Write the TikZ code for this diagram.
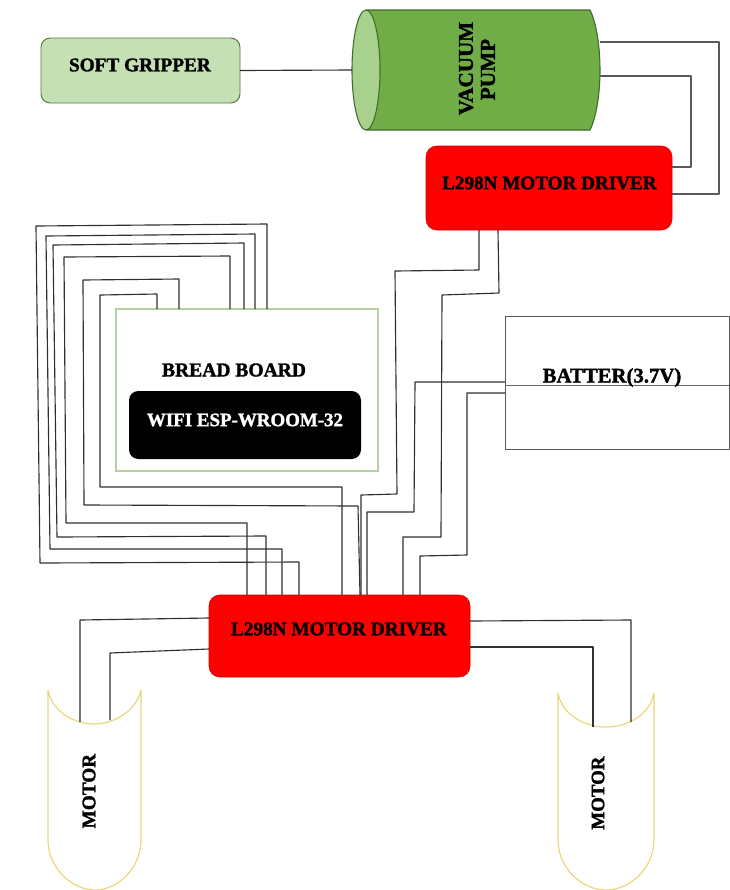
\documentclass[tikz,border=0pt]{standalone}
\usepackage{fontspec}
\setmainfont[BoldFeatures={FakeBold=1.6}]{Liberation Serif}
\usepackage{graphicx}
\definecolor{wirec}{HTML}{303030}
\definecolor{pumpg}{HTML}{70AD47}
\definecolor{pumpl}{HTML}{A9D18E}
\definecolor{pumpd}{HTML}{3F6B2A}
\definecolor{gripf}{HTML}{C5E0B4}
\definecolor{gripd}{HTML}{4F7A3A}
\definecolor{bbd}{HTML}{B5CFA5}
\definecolor{motc}{HTML}{EAD77E}
\newcommand{\labw}[2]{\resizebox{#1pt}{!}{\textbf{#2}}}
\begin{document}
\begin{tikzpicture}[x=0.75pt,y=-0.75pt,
  wire/.style={draw=wirec,line width=0.85pt,line join=round},
  wiregrey/.style={draw=wirec!80,line width=0.85pt,line join=round},
  bx/.style 2 args={inner sep=0pt,outer sep=0pt,minimum width=#1*0.75pt,minimum height=#2*0.75pt},
  redbox/.style={rectangle,rounded corners=8pt,fill=red,draw=red!85!black,line width=0.4pt},
  txt/.style={inner sep=0pt,outer sep=0pt},
  motor/.style={draw=motc,line width=0.9pt,fill=white,line join=bevel}]
\useasboundingbox (0,0) rectangle (730,890);
\fill[white] (0,0) rectangle (730,890);

% gripper
\node[bx={199}{65},rectangle,rounded corners=7pt,fill=gripf,draw=gripd,line width=0.7pt] (grip) at (140.5,70.5) {};
\node[txt] (gript) at (140,65) {\labw{106.5}{SOFT GRIPPER}};

% pump
\path[fill=pumpg,draw=pumpd,line width=0.8pt]
  (367,10) -- (590,10) .. controls (596,22) and (600,45) .. (600,70)
  .. controls (600,95) and (596,118) .. (590,130) -- (367,130) -- cycle;
\draw[fill=pumpl,draw=pumpd,line width=0.8pt] (366,70) ellipse [x radius=14,y radius=60];
\node[txt,rotate=90] (pumpt1) at (466,68.5) {\labw{70}{VACUUM}};
\node[txt,rotate=90] (pumpt2) at (488,69.5) {\labw{46}{PUMP}};
\coordinate (pumpA) at (600,42);
\coordinate (pumpB) at (600,76);
\coordinate (pumpL) at (352,70);

% upper driver
\node[bx={246}{84},redbox] (drvU) at (549,188) {};
\node[txt] (drvUt) at (549.5,183) {\labw{161}{L298N MOTOR DRIVER}};

% battery
\node[bx={224}{133},rectangle,draw=wirec!80,line width=0.7pt] (bat) at (617,382.5) {};
\draw[draw=wirec!75,line width=0.5pt] (bat.west |- 0,385.5) -- (bat.east |- 0,385.5);
\node[txt] (batt) at (612,377.5) {\labw{104}{BATTER(3.7V)}};

% breadboard
\node[bx={262}{162},rectangle,draw=bbd,line width=0.8pt] (bb) at (247,390) {};
\node[txt] (bbt) at (234,370) {\labw{108}{BREAD BOARD}};
\node[bx={232}{68},rectangle,rounded corners=7pt,fill=black] (esp) at (245,425) {};
\node[txt,text=white] (espt) at (245,420) {\labw{147}{WIFI ESP-WROOM-32}};

% lower driver
\node[bx={261}{82},redbox] (drvL) at (339.5,636) {};
\node[txt] (drvLt) at (339,629) {\labw{162}{L298N MOTOR DRIVER}};

% motors
\path[motor] (48,690) .. controls (52,712) and (75,724) .. (94,724)
  .. controls (113,724) and (136,712) .. (141,690) -- (141,840)
  .. controls (141,868) and (118,890) .. (95,890)
  .. controls (72,890) and (48,868) .. (48,840) -- cycle;
\path[motor] (558,693) .. controls (562,715) and (585,727) .. (606,727)
  .. controls (627,727) and (650,715) .. (654,693) -- (654,840)
  .. controls (654,868) and (630,890) .. (606,890)
  .. controls (582,890) and (558,868) .. (558,840) -- cycle;
\node[txt,rotate=90] (motLt) at (89,791) {\labw{56}{MOTOR}};
\node[txt,rotate=90] (motRt) at (598,793) {\labw{55}{MOTOR}};

% ports
\coordinate (bb1) at (267,309); \coordinate (dl1) at (299,595);
\coordinate (bb2) at (255,309); \coordinate (dl2) at (282,595);
\coordinate (bb3) at (244,309); \coordinate (dl3) at (266,595);
\coordinate (bb4) at (230,309); \coordinate (dl4) at (247,595);
\coordinate (bb5) at (179,309); \coordinate (dl5) at (360,595);
\coordinate (bb6) at (157,309); \coordinate (dl6) at (342,595);
\coordinate (du1) at (479,230); \coordinate (dl7) at (361,595);
\coordinate (du2) at (498,230); \coordinate (dl8) at (403,595);
\coordinate (ba1) at (505,382); \coordinate (dl9) at (367,595);
\coordinate (ba2) at (505,393); \coordinate (dl10) at (420,595);
\coordinate (duR1) at (672,194); \coordinate (duR2) at (672,167);
\coordinate (dlL1) at (209,618); \coordinate (dlL2) at (209,649);
\coordinate (dlR1) at (470,621); \coordinate (dlR2) at (470,647);
\coordinate (mL1) at (80,722); \coordinate (mL2) at (110,720);
\coordinate (mR1) at (631,722); \coordinate (mR2) at (593,727);

% breadboard to lower driver
\draw[wire] (bb1) -- (267,224) -- (36,226) -- (40,563) -- (299,562) -- (dl1);
\draw[wire] (bb2) -- (255,234) -- (46,236) -- (50,549) -- (282,549) -- (dl2);
\draw[wire] (bb3) -- (244,243) -- (53,245) -- (57,537) -- (266,536) -- (dl3);
\draw[wire] (bb4) -- (230,256) -- (64,257) -- (66,523) -- (247,523) -- (dl4);
\draw[wire] (bb5) -- (179,279) -- (83,280) -- (84,505) -- (358,506) -- (dl5);
\draw[wire] (bb6) -- (157,294) -- (100,295) -- (100,487) -- (342,487) -- (dl6);

% upper driver to lower driver
\draw[wire] (du1) -- (479,270) -- (395,271) -- (397,494) -- (361,495) -- (dl7);
\draw[wire] (du2) -- (499,293) -- (442,295) -- (441,537) -- (403,537) -- (dl8);

% battery to lower driver
\draw[wire] (ba1) -- (415,382) -- (414,512) -- (367,512) -- (dl9);
\draw[wire] (ba2) -- (467,393) -- (467,555) -- (420,556) -- (dl10);

% pump to upper driver
\draw[wiregrey] (pumpA) -- (719,42) -- (719,194) -- (duR1);
\draw[wiregrey] (pumpB) -- (691,76) -- (691,167) -- (duR2);

% gripper to pump
\draw[wire] (grip.east) -- (pumpL);

% lower driver to motors
\draw[wire] (dlL1) -- (80,620) -- (mL1);
\draw[wire] (dlL2) -- (110,653) -- (mL2);
\draw[wire] (dlR1) -- (631,620) -- (mR1);
\draw[wire] (dlR2) -- (593,647) -- (mR2);
\end{tikzpicture}
\end{document}
